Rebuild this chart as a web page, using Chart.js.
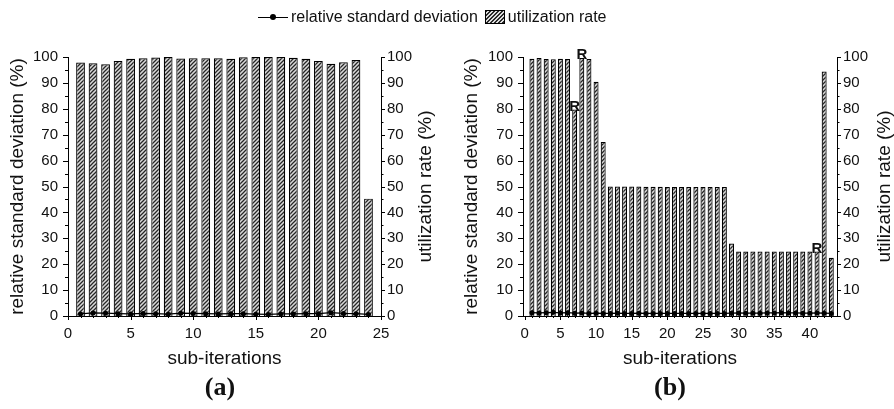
<!DOCTYPE html>
<html>
<head>
<meta charset="utf-8">
<script src="https://cdn.jsdelivr.net/npm/chart.js@4.4.1/dist/chart.umd.min.js"></script>
<style>
body { margin: 0; background: #fff; font-family: "Liberation Sans", Arial, sans-serif; }
#wrap { position: relative; width: 894px; height: 409px; overflow: hidden; }
.cv { position: absolute; top: 0; }
#legend { position: absolute; left: 258px; top: 6px; height: 22px; display: flex; align-items: center; font-size: 16px; color: #111; white-space: nowrap; }
.lineicon { position: relative; width: 30px; height: 12px; margin-right: 3px; }
.lineicon:before { content: ""; position: absolute; left: 0; right: 0; top: 5.5px; border-top: 1.2px solid #000; }
.lineicon:after { content: ""; position: absolute; left: 12px; top: 3px; width: 6px; height: 6px; border-radius: 50%; background: #000; }
.swatch { width: 20px; height: 14px; border: 1px solid #000; margin: 0 3px 0 7px; box-sizing: border-box;
  background: repeating-linear-gradient(135deg, #2a2a2a 0 1.2px, #ddd 1.2px 2.8px); }
.panel { position: absolute; top: 372px; width: 60px; text-align: center; font: bold 26px "Liberation Serif", "Times New Roman", serif; color: #111; }
</style>
</head>
<body>
<div id="wrap">
  <canvas id="chartA" class="cv" style="left:0" width="447" height="409"></canvas>
  <canvas id="chartB" class="cv" style="left:447px" width="447" height="409"></canvas>
  <div id="legend"><span class="lineicon"></span>relative standard deviation<span class="swatch"></span>utilization rate</div>
  <div class="panel" style="left:190px">(a)</div>
  <div class="panel" style="left:640px">(b)</div>
</div>
<script>
// panel (a)
const subA = [1,2,3,4,5,6,7,8,9,10,11,12,13,14,15,16,17,18,19,20,21,22,23,24];
const utilA = [97.9,97.6,97.2,98.5,99.3,99.5,99.8,100,99.4,99.5,99.5,99.5,99.3,99.9,100,100,100,99.7,99.3,98.5,97.4,98.0,98.8,45.3];
const rsdA = [0.8,1.2,1.1,0.9,0.8,1.0,0.9,0.7,1.1,1.0,0.9,0.8,0.9,0.9,0.7,0.6,0.8,0.8,0.9,0.9,1.3,1.0,0.9,0.6];
const xTicksA = [0,5,10,15,20,25];

// panel (b)
const subB = [1,2,3,4,5,6,7,8,9,10,11,12,13,14,15,16,17,18,19,20,21,22,23,24,25,26,27,28,29,30,31,32,33,34,35,36,37,38,39,40,41,42,43];
const utilB = [99.3,99.6,99.2,99.1,99.3,99.2,79.7,99.6,99.2,90.4,67.2,
  50.0,50.0,50.0,50.0,50.0,49.9,49.9,49.9,49.8,49.8,49.8,49.8,49.8,49.8,49.8,49.8,49.8,
  28.0,24.9,24.9,24.9,24.9,24.9,24.9,24.9,24.9,24.9,24.9,24.9,24.9,94.4,22.5];
const rsdB = [1.3,1.2,1.3,1.4,1.2,1.3,1.1,1.2,1.0,1.1,1.0,1.0,1.1,1.0,1.0,1.1,1.0,1.0,1.0,1.0,1.0,1.0,1.0,1.0,1.0,1.0,1.0,1.0,
  1.1,1.2,1.1,1.1,1.1,1.2,1.2,1.3,1.2,1.2,1.1,1.1,1.2,1.1,1.0];
const xTicksB = [0,5,10,15,20,25,30,35,40];
const markedB = [7,8,41]; // sub-iterations labelled "R"

const yTicks = [0,10,20,30,40,50,60,70,80,90,100];

const FONT = '"Liberation Sans", Arial, sans-serif';

function hatch(ctx) {
  const c = document.createElement('canvas');
  c.width = 4; c.height = 4;
  const g = c.getContext('2d');
  g.fillStyle = '#dadada';
  g.fillRect(0, 0, 4, 4);
  g.strokeStyle = '#262626';
  g.lineWidth = 1.25;
  g.beginPath();
  g.moveTo(0, 4); g.lineTo(4, 0);
  g.moveTo(-1, 1); g.lineTo(1, -1);
  g.moveTo(3, 5); g.lineTo(5, 3);
  g.stroke();
  return ctx.createPattern(c, 'repeat');
}

// minor / major tick marks, right-hand title and the "R" markers
const axisMarks = {
  id: 'axisMarks',
  afterDraw(chart, args, opts) {
    const { ctx, chartArea: a, scales } = chart;
    ctx.save();
    ctx.strokeStyle = '#000';
    ctx.lineWidth = 1;
    ctx.beginPath();
    const x = scales.x;
    for (let v = Math.ceil(x.min); v <= x.max; v++) {
      const px = Math.round(x.getPixelForValue(v)) + 0.5;
      const len = v % 5 === 0 ? 4 : 2;
      ctx.moveTo(px, a.bottom); ctx.lineTo(px, a.bottom + len);
    }
    for (let v = 0; v <= 100; v += 5) {
      const py = Math.round(scales.y.getPixelForValue(v)) + 0.5;
      const major = v % 10 === 0;
      ctx.moveTo(a.left - (major ? 5 : 3), py); ctx.lineTo(a.left, py);
      ctx.moveTo(a.right, py); ctx.lineTo(a.right + (major ? 4 : 2.5), py);
    }
    ctx.stroke();

    // right axis title reads bottom-to-top
    ctx.fillStyle = '#111';
    ctx.font = '19px ' + FONT;
    ctx.textAlign = 'center';
    ctx.textBaseline = 'middle';
    ctx.translate(opts.rightTitleX, (a.top + a.bottom) / 2);
    ctx.rotate(-Math.PI / 2);
    ctx.fillText('utilization rate (%)', 0, 0);
    ctx.setTransform(1, 0, 0, 1, 0, 0);

    const marks = opts.marks || [];
    if (marks.length) {
      const bars = chart.getDatasetMeta(1).data;
      ctx.font = 'bold 15px ' + FONT;
      ctx.textBaseline = 'alphabetic';
      marks.forEach(s => {
        const bar = bars[s - 1];
        ctx.fillText('R', bar.x, bar.y + 1);
      });
    }
    ctx.restore();
  }
};

function makeChart(id, sub, util, rsd, xTicks, xMin, xMax, lay, marks) {
  const ctx = document.getElementById(id).getContext('2d');
  return new Chart(ctx, {
    data: {
      datasets: [{
        type: 'line',
        label: 'relative standard deviation',
        data: sub.map((s, i) => ({ x: s, y: rsd[i] })),
        yAxisID: 'y',
        borderColor: '#000',
        backgroundColor: '#000',
        borderWidth: 1.2,
        pointRadius: 2.5,
        pointBorderWidth: 0,
        tension: 0,
        order: 0
      }, {
        type: 'bar',
        label: 'utilization rate',
        data: sub.map((s, i) => ({ x: s, y: util[i] })),
        yAxisID: 'y2',
        backgroundColor: hatch(ctx),
        borderColor: '#000',
        borderWidth: 1.2,
        barPercentage: 0.7,
        categoryPercentage: 1,
        order: 1
      }]
    },
    options: {
      responsive: false,
      animation: false,
      layout: { padding: { top: 57, bottom: 37, left: 0, right: 0 } },
      plugins: {
        legend: { display: false },
        tooltip: { enabled: false },
        axisMarks: { marks: marks, rightTitleX: lay.rightTitleX }
      },
      scales: {
        x: {
          type: 'linear',
          offset: false,
          min: xMin,
          max: xMax,
          afterBuildTicks: s => { s.ticks = xTicks.map(v => ({ value: v })); },
          afterFit: s => { s.height = 56; },
          grid: { display: false, drawTicks: true, tickLength: 4, offset: false },
          border: { display: true, color: '#000', width: 1 },
          ticks: { font: { size: 15, family: FONT }, color: '#111', padding: 5, maxRotation: 0, autoSkip: false },
          title: { display: true, text: 'sub-iterations', font: { size: 19, family: FONT, lineHeight: 1 }, color: '#111', padding: { top: 0, bottom: 3.5 } }
        },
        y: {
          position: 'left',
          min: 0,
          max: 100,
          afterBuildTicks: s => { s.ticks = yTicks.map(v => ({ value: v })); },
          afterFit: s => { s.width = lay.left; },
          grid: { display: false, drawTicks: true, tickLength: 5 },
          border: { display: true, color: '#000', width: 1 },
          ticks: { font: { size: 15, family: FONT }, color: '#111', padding: 5 },
          title: { display: true, text: 'relative standard deviation (%)', font: { size: 19, family: FONT, lineHeight: 1 }, color: '#111', padding: { top: lay.leftTitle, bottom: 0 } }
        },
        y2: {
          position: 'right',
          min: 0,
          max: 100,
          afterBuildTicks: s => { s.ticks = yTicks.map(v => ({ value: v })); },
          afterFit: s => { s.width = lay.right; },
          grid: { display: false, drawTicks: true, tickLength: 4 },
          border: { display: true, color: '#000', width: 1 },
          ticks: { font: { size: 15, family: FONT }, color: '#111', padding: 2 },
          title: { display: false }
        }
      }
    },
    plugins: [axisMarks]
  });
}

makeChart('chartA', subA, utilA, rsdA, xTicksA, 0, 25, { left: 68, right: 66, leftTitle: 8.5, rightTitleX: 426 }, []);
makeChart('chartB', subB, utilB, rsdB, xTicksB, -0.25, 43.8, { left: 76, right: 57, leftTitle: 15.5, rightTitleX: 438 }, markedB);
</script>
</body>
</html>
